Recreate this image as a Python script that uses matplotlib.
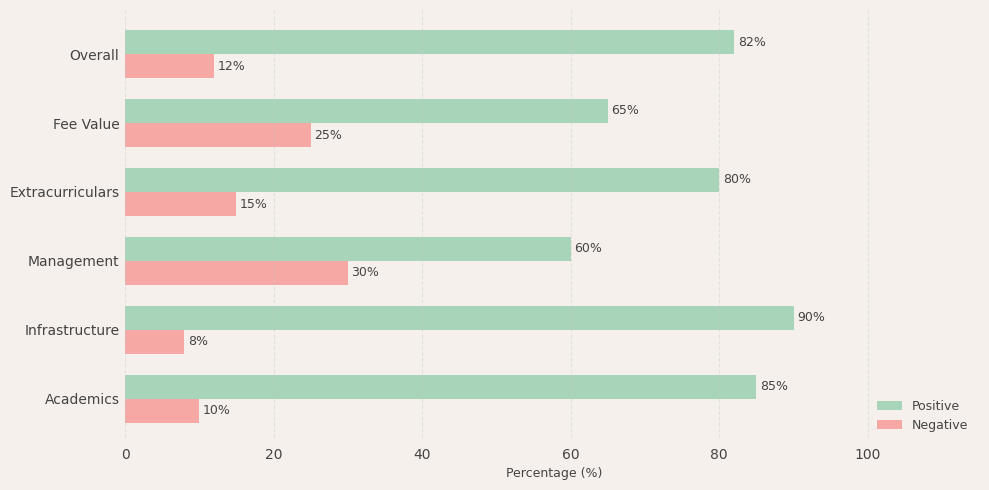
import matplotlib
matplotlib.use("Agg")
import matplotlib.pyplot as plt
import numpy as np

categories = ["Academics", "Infrastructure", "Management", "Extracurriculars", "Fee Value", "Overall"]
positive = [85, 90, 60, 80, 65, 82]
negative = [10, 8, 30, 15, 25, 12]

bg = "#f5f0ec"
green = "#a8d5ba"
red = "#f6a8a5"
txt = "#444444"

fig = plt.figure(figsize=(9.89, 4.9), dpi=100, facecolor=bg)
left, right, top, bottom = 125, 983, 10, 438
ax = fig.add_axes([left/989, 1 - bottom/490, (right-left)/989, (bottom-top)/490])
ax.set_facecolor(bg)

y = np.arange(len(categories))
h = 0.35
b1 = ax.barh(y + h/2, positive, height=h, color=green, label="Positive")
b2 = ax.barh(y - h/2, negative, height=h, color=red, label="Negative")

for bars, vals in ((b1, positive), (b2, negative)):
    for bar, v in zip(bars, vals):
        ax.text(bar.get_width() + 0.5, bar.get_y() + bar.get_height()/2, f"{v}%",
                va="center", ha="left", fontsize=9, color=txt)

ax.set_yticks(y)
ax.set_yticklabels(categories, fontsize=10, color=txt)
ax.set_xlim(0, 115.5)
ax.set_ylim(-0.57, 5.64)
ax.set_xticks([0, 20, 40, 60, 80, 100])
ax.tick_params(axis="x", labelsize=10, colors=txt, length=0, pad=7)
ax.tick_params(axis="y", length=0, pad=4)
ax.set_xlabel("Percentage (%)", fontsize=9, color=txt, labelpad=4)
for s in ax.spines.values():
    s.set_visible(False)
ax.grid(axis="x", linestyle="--", color="#c8c8c8", alpha=0.4, linewidth=0.8)
ax.set_axisbelow(False)
leg = ax.legend(loc="lower right", frameon=False, fontsize=9, labelcolor=txt,
                bbox_to_anchor=(0.996, -0.012))

fig.savefig("out.png", dpi=100, facecolor=bg)
